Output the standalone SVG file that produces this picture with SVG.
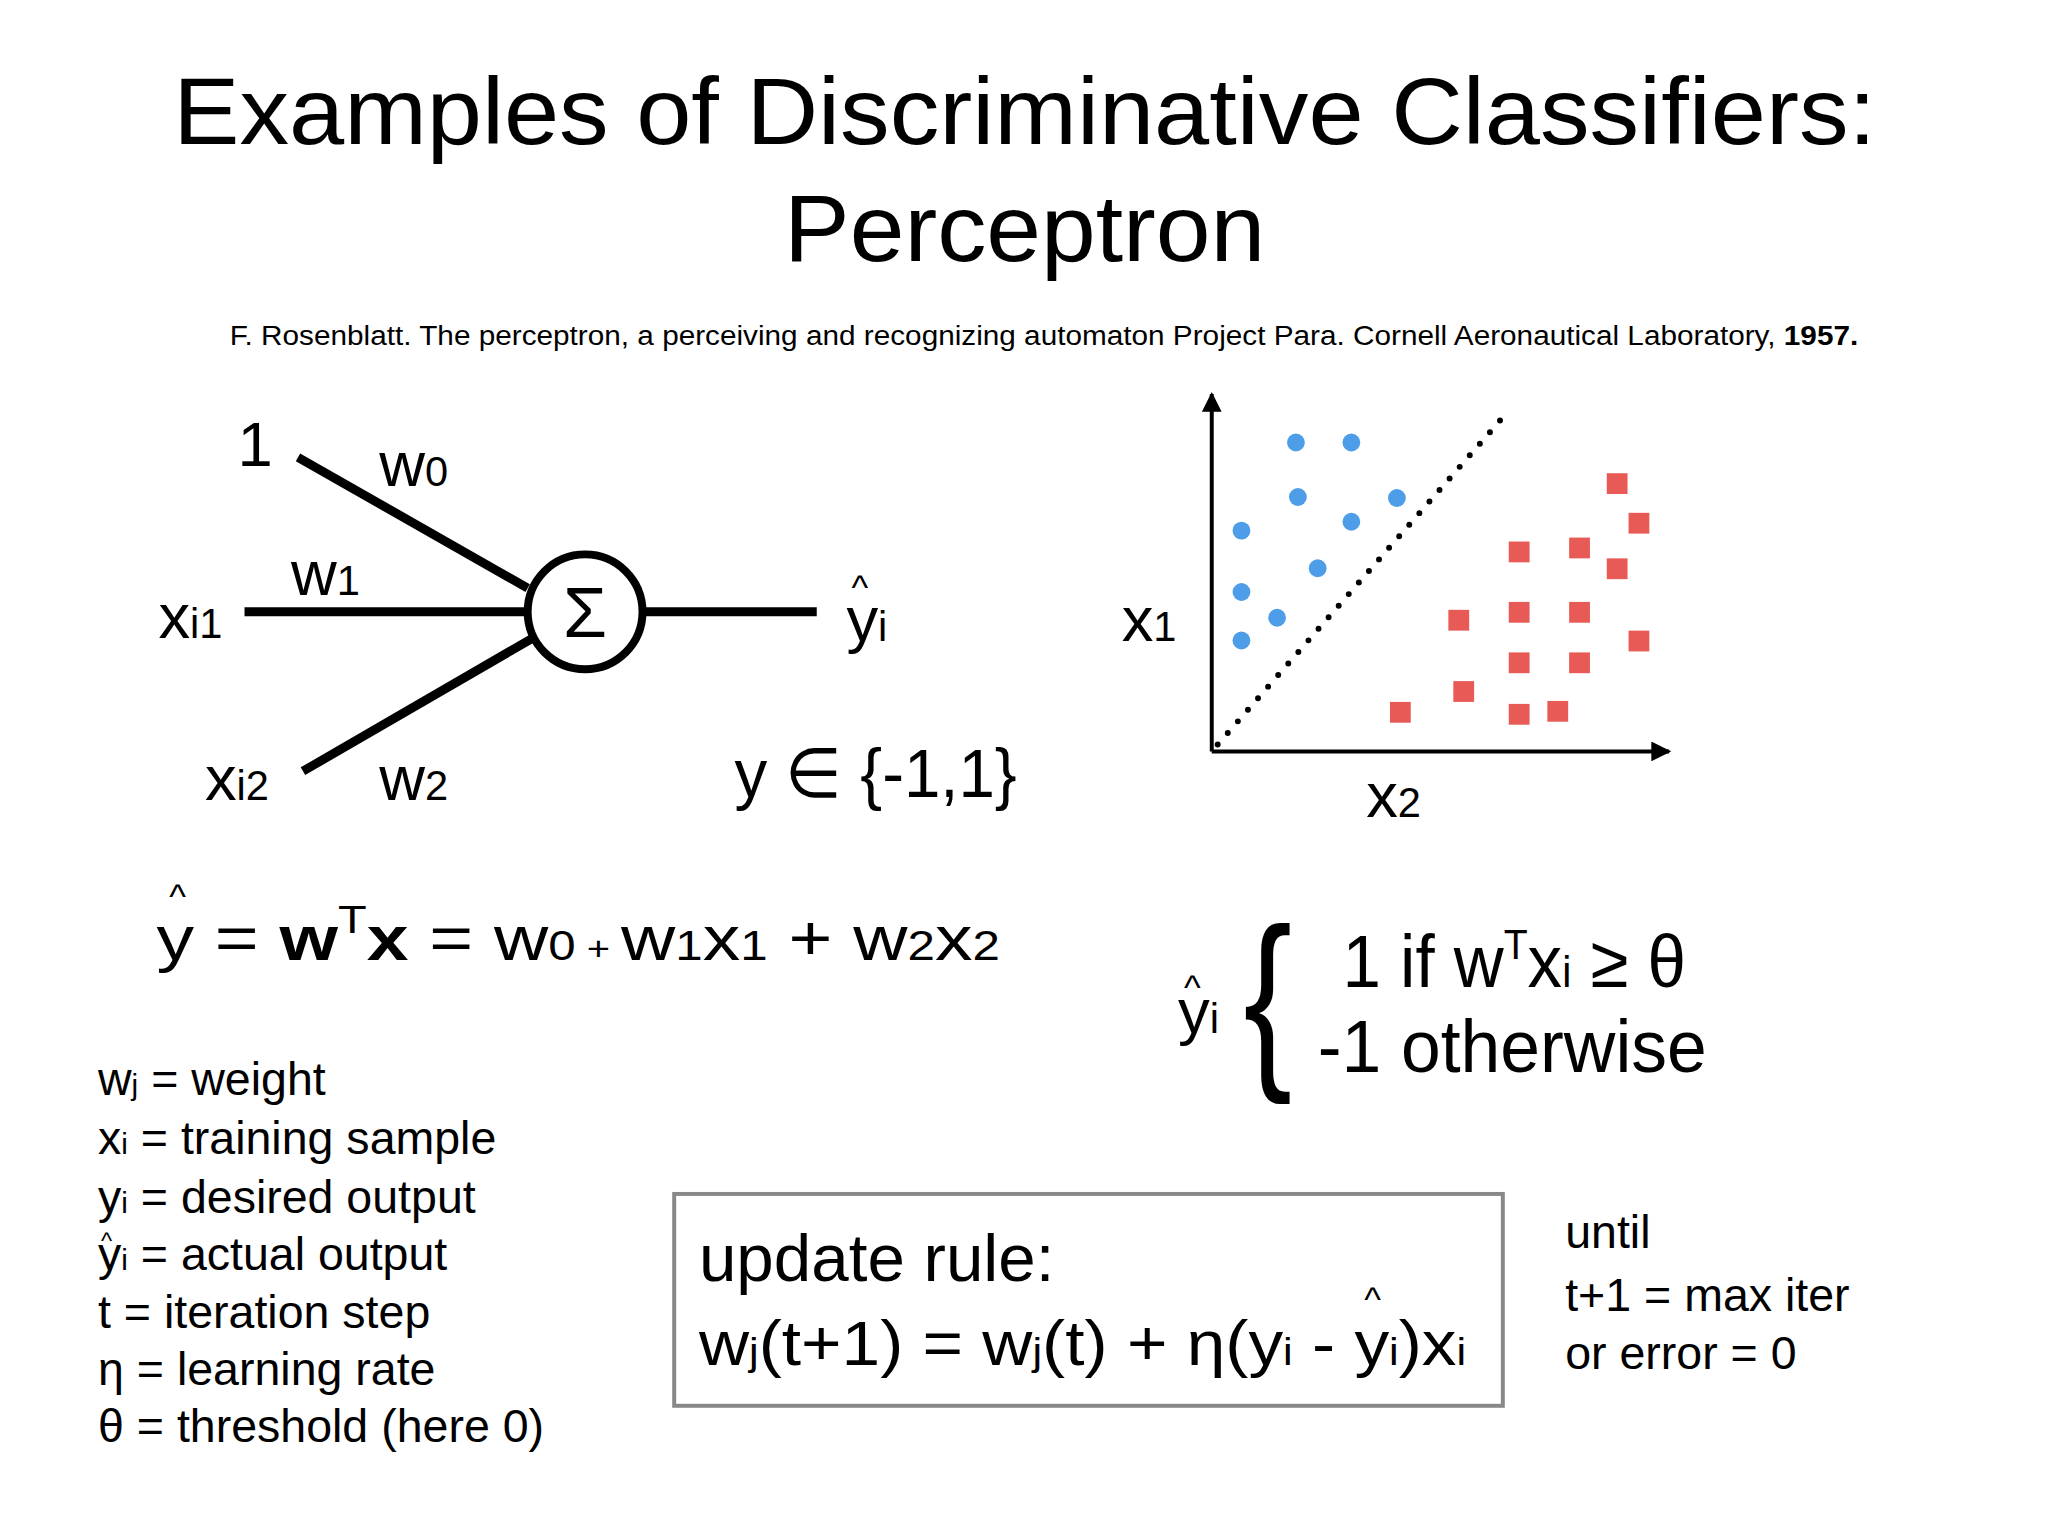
<svg xmlns="http://www.w3.org/2000/svg" width="2048" height="1536" viewBox="0 0 2048 1536">
<style>
text{font-family:"Liberation Sans",Arial,sans-serif;fill:#000}
.lbl{font-size:64px}
.sub{font-size:42px}
.leg{font-size:47px}
.blue{fill:#4d9de8}
.red{fill:#e85a55}
.edge{stroke:#000;stroke-width:9;fill:none}
</style>
<defs>
<marker id="ah" viewBox="0 0 10 10" refX="9" refY="5" markerWidth="5" markerHeight="5" markerUnits="strokeWidth" orient="auto"><path d="M0,0 L10,5 L0,10 z" fill="#000"/></marker>
</defs>
<rect width="2048" height="1536" fill="#fff"/>
<g transform="scale(0.99)">
<g id="title">
<text x="1035" y="145" font-size="96" text-anchor="middle" textLength="1720" lengthAdjust="spacingAndGlyphs">Examples of Discriminative Classifiers:</text>
<text x="1035" y="264" font-size="96" text-anchor="middle" textLength="486" lengthAdjust="spacingAndGlyphs">Perceptron</text>
<text x="232" y="348" font-size="28" textLength="1645" lengthAdjust="spacingAndGlyphs">F. Rosenblatt. The perceptron, a perceiving and recognizing automaton Project Para. Cornell Aeronautical Laboratory, <tspan font-weight="bold">1957.</tspan></text>
</g>
<g id="connectors">
<line class="edge" x1="301" y1="462" x2="533" y2="594"/>
<line class="edge" x1="247" y1="618" x2="533" y2="618"/>
<line class="edge" x1="306" y1="779" x2="539" y2="644"/>
<line class="edge" x1="650" y1="618" x2="825" y2="618"/>
</g>
<g id="sum">
<circle cx="591" cy="618" r="58" fill="#fff" stroke="#000" stroke-width="8"/>
<text x="591" y="643" font-size="72" text-anchor="middle" fill="#333">Σ</text>
</g>
<g id="input-labels">
<text class="lbl" x="240" y="471">1</text>
<text class="lbl" x="383" y="491">w<tspan class="sub">0</tspan></text>
<text class="lbl" x="294" y="601">w<tspan class="sub">1</tspan></text>
<text class="lbl" x="160" y="644">x<tspan class="sub">i1</tspan></text>
<text class="lbl" x="207" y="808">x<tspan class="sub">i2</tspan></text>
<text class="lbl" x="383" y="808">w<tspan class="sub">2</tspan></text>
<text class="lbl" x="855" y="647">y<tspan class="sub">i</tspan></text>
<text x="860" y="606" font-size="36">^</text>
<text x="742" y="805" font-size="70" textLength="285" lengthAdjust="spacingAndGlyphs">y ∈ {-1,1}</text>
</g>
<g id="plot">
<line x1="1230" y1="752" x2="1522" y2="417" stroke="#000" stroke-width="6" stroke-linecap="round" stroke-dasharray="0 15.5"/>
<line x1="1224" y1="759" x2="1224" y2="398" stroke="#000" stroke-width="4" marker-end="url(#ah)"/>
<line x1="1224" y1="759" x2="1686" y2="759" stroke="#000" stroke-width="4" marker-end="url(#ah)"/>
<g class="blue">
<circle cx="1309" cy="447" r="9"/><circle cx="1365" cy="447" r="9"/><circle cx="1311" cy="502" r="9"/><circle cx="1411" cy="503" r="9"/><circle cx="1365" cy="527" r="9"/><circle cx="1254" cy="536" r="9"/><circle cx="1331" cy="574" r="9"/><circle cx="1254" cy="598" r="9"/><circle cx="1290" cy="624" r="9"/><circle cx="1254" cy="647" r="9"/>
</g>
<g class="red">
<rect x="1623" y="478" width="21" height="21"/><rect x="1645" y="518" width="21" height="21"/><rect x="1524" y="547" width="21" height="21"/><rect x="1585" y="543" width="21" height="21"/><rect x="1623" y="564" width="21" height="21"/><rect x="1463" y="616" width="21" height="21"/><rect x="1524" y="608" width="21" height="21"/><rect x="1585" y="608" width="21" height="21"/><rect x="1645" y="637" width="21" height="21"/><rect x="1524" y="659" width="21" height="21"/><rect x="1585" y="659" width="21" height="21"/><rect x="1468" y="688" width="21" height="21"/><rect x="1404" y="709" width="21" height="21"/><rect x="1524" y="711" width="21" height="21"/><rect x="1563" y="708" width="21" height="21"/>
</g>
<text class="lbl" x="1133" y="647">x<tspan class="sub">1</tspan></text>
<text class="lbl" x="1380" y="825">x<tspan class="sub">2</tspan></text>
</g>
<g id="equation">
<text x="171" y="918" font-size="36">^</text>
<text x="158" y="970" font-size="64" textLength="852" lengthAdjust="spacingAndGlyphs">y = <tspan font-weight="bold">w</tspan><tspan font-size="40" dy="-28">T</tspan><tspan font-weight="bold" dy="28">x</tspan> = w<tspan class="sub">0</tspan><tspan font-size="34"> + </tspan>w<tspan class="sub">1</tspan>x<tspan class="sub">1</tspan> + w<tspan class="sub">2</tspan>x<tspan class="sub">2</tspan></text>
</g>
<g id="piecewise">
<text x="1196" y="1010" font-size="36">^</text>
<text class="lbl" x="1190" y="1043">y<tspan class="sub">i</tspan></text>
<text x="0" y="0" font-size="196" transform="translate(1256,1075) scale(0.75,1)">{</text>
<text x="1356" y="997" font-size="74" textLength="347" lengthAdjust="spacingAndGlyphs">1 if w<tspan font-size="42" dy="-28">T</tspan><tspan dy="28">x</tspan><tspan font-size="44">i</tspan> ≥ θ</text>
<text x="1331" y="1083" font-size="74" textLength="393" lengthAdjust="spacingAndGlyphs">-1 otherwise</text>
</g>
<g id="legend">
<text class="leg" x="99" y="1106">w<tspan font-size="30">j</tspan> = weight</text>
<text class="leg" x="99" y="1166">x<tspan font-size="30">i</tspan> = training sample</text>
<text class="leg" x="99" y="1225">y<tspan font-size="30">i</tspan> = desired output</text>
<text x="102" y="1262" font-size="24">^</text>
<text class="leg" x="99" y="1283">y<tspan font-size="30">i</tspan> = actual output</text>
<text class="leg" x="99" y="1341">t = iteration step</text>
<text class="leg" x="99" y="1399">η = learning rate</text>
<text class="leg" x="99" y="1457">θ = threshold (here 0)</text>
</g>
<g id="update-box">
<rect x="681" y="1206" width="837" height="214" fill="none" stroke="#888" stroke-width="4"/>
<text x="706" y="1294" font-size="68">update rule:</text>
<text x="1378" y="1325" font-size="36">^</text>
<text x="706" y="1379" font-size="64" textLength="775" lengthAdjust="spacingAndGlyphs">w<tspan font-size="40">j</tspan>(t+1) = w<tspan font-size="40">j</tspan>(t) + η(y<tspan font-size="40">i</tspan> - y<tspan font-size="40">i</tspan>)x<tspan font-size="40">i</tspan></text>
</g>
<g id="until">
<text class="leg" x="1581" y="1261">until</text>
<text class="leg" x="1581" y="1324">t+1 = max iter</text>
<text class="leg" x="1581" y="1383">or error = 0</text>
</g>
</g>
</svg>
